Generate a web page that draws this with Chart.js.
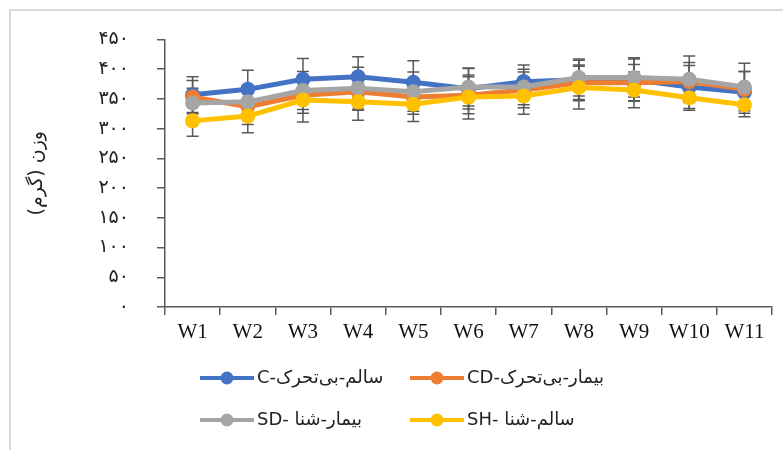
<!DOCTYPE html>
<html>
<head>
<meta charset="utf-8">
<script src="https://cdn.jsdelivr.net/npm/chart.js@4"></script>
<style>
  html, body { margin: 0; padding: 0; background: #fff; }
  #wrap { width: 783px; height: 450px; position: relative; }
</style>
</head>
<body>
<div id="wrap"><canvas id="chartCanvas" width="783" height="450"></canvas></div>
<script>
// weeks and mean weight (g) per group, with the error bar size
const weeks = ["W1", "W2", "W3", "W4", "W5", "W6", "W7", "W8", "W9", "W10", "W11"];
const seriesNames = ["C-سالم-بی‌تحرک", "CD-بیمار-بی‌تحرک", "SD- بیمار-شنا", "SH- سالم-شنا"];
const seriesColors = ["#4472C4", "#ED7D31", "#A5A5A5", "#FFC000"];

const valuesC = [357, 366, 383, 387, 378, 367, 379, 382, 382, 370, 361];
const valuesCD = [353, 337, 356, 362, 353, 356, 365, 377, 377, 379, 366];
const valuesSD = [343, 345, 364, 368, 362, 370, 370, 386, 386, 383, 370];
const valuesSH = [313, 321, 348, 345, 341, 353, 355, 369, 365, 352, 340];

const errC = [30, 32, 35, 34, 36, 34, 28, 33, 35, 36, 35];
const errCD = [28, 30, 30, 31, 29, 31, 30, 30, 31, 32, 30];
const errSD = [25, 28, 32, 35, 33, 32, 30, 31, 33, 39, 40];
const errSH = [26, 28, 37, 31, 29, 37, 31, 36, 30, 21, 20];

const yTicks = [0, 50, 100, 150, 200, 250, 300, 350, 400, 450];
const yTitle = "وزن (گرم)";

const persianDigits = "۰۱۲۳۴۵۶۷۸۹";
const toPersian = (n) => String(n).replace(/[0-9]/g, (d) => persianDigits[d]);

const axisColor = "#595959";
const persianFont = "'DejaVu Sans'";

// error bars under the markers
const errorBars = {
  id: "errorBars",
  beforeDatasetsDraw(chart) {
    const ctx = chart.ctx;
    const yScale = chart.scales.y;
    ctx.save();
    ctx.strokeStyle = axisColor;
    ctx.lineWidth = 1.5;
    chart.data.datasets.forEach((ds, i) => {
      const meta = chart.getDatasetMeta(i);
      meta.data.forEach((pt, j) => {
        const v = ds.data[j];
        const e = ds.errors[j];
        const yTop = yScale.getPixelForValue(v + e);
        const yBot = yScale.getPixelForValue(v - e);
        ctx.beginPath();
        ctx.moveTo(pt.x, yTop);
        ctx.lineTo(pt.x, yBot);
        ctx.moveTo(pt.x - 6, yTop);
        ctx.lineTo(pt.x + 6, yTop);
        ctx.moveTo(pt.x - 6, yBot);
        ctx.lineTo(pt.x + 6, yBot);
        ctx.stroke();
      });
    });
    ctx.restore();
  },
};

// legend in two rows under the axis, plus the outer frame
const legendAndFrame = {
  id: "legendAndFrame",
  afterDraw(chart) {
    const ctx = chart.ctx;
    ctx.save();
    ctx.strokeStyle = "#d9d9d9";
    ctx.lineWidth = 2;
    ctx.beginPath();
    ctx.moveTo(10, 450);
    ctx.lineTo(10, 10);
    ctx.lineTo(783, 10);
    ctx.stroke();

    const cols = [200, 410];
    const rows = [378, 420];
    seriesNames.forEach((name, i) => {
      const x = cols[i % 2];
      const y = rows[Math.floor(i / 2)];
      ctx.strokeStyle = seriesColors[i];
      ctx.lineWidth = 4;
      ctx.beginPath();
      ctx.moveTo(x, y);
      ctx.lineTo(x + 54, y);
      ctx.stroke();
      ctx.fillStyle = seriesColors[i];
      ctx.beginPath();
      ctx.arc(x + 27, y, 6.5, 0, Math.PI * 2);
      ctx.fill();
      ctx.fillStyle = "#222";
      ctx.font = "18px " + persianFont;
      ctx.textAlign = "left";
      ctx.textBaseline = "middle";
      ctx.fillText(name, x + 57, y);
    });
    ctx.restore();
  },
};

const allValues = [valuesC, valuesCD, valuesSD, valuesSH];
const allErrors = [errC, errCD, errSD, errSH];

new Chart(document.getElementById("chartCanvas"), {
  type: "line",
  data: {
    labels: weeks,
    datasets: allValues.map((vals, i) => ({
      label: seriesNames[i],
      data: vals,
      errors: allErrors[i],
      borderColor: seriesColors[i],
      backgroundColor: seriesColors[i],
      borderWidth: 5,
      pointRadius: 7.5,
      pointBorderWidth: 0,
      tension: 0,
      order: 3 - i, // yellow on top, like the original
    })),
  },
  options: {
    responsive: false,
    animation: false,
    layout: { padding: { top: 39, right: 11, bottom: 0, left: 0 } },
    plugins: {
      legend: { display: false },
      tooltip: { enabled: false },
    },
    scales: {
      x: {
        offset: true,
        grid: { offset: true, drawOnChartArea: false, tickLength: 8, color: axisColor, lineWidth: 1.5 },
        border: { color: axisColor, width: 1.5 },
        ticks: {
          color: "#111",
          padding: 5,
          maxRotation: 0,
          autoSkip: false,
          font: { family: "'Liberation Serif'", size: 21 },
        },
        afterFit: (scale) => { scale.height = 143; },
      },
      y: {
        min: 0,
        max: 450,
        afterBuildTicks: (scale) => { scale.ticks = yTicks.map((v) => ({ value: v })); },
        grid: { drawOnChartArea: false, tickLength: 8, color: axisColor, lineWidth: 1.5 },
        border: { color: axisColor, width: 1.5 },
        ticks: {
          color: "#222",
          padding: 28,
          font: { family: persianFont, size: 19 },
          callback: (v) => toPersian(v),
        },
        title: {
          display: true,
          text: yTitle,
          color: "#222",
          padding: { top: 26, bottom: 0 },
          font: { family: persianFont, size: 19 },
        },
        afterFit: (scale) => { scale.width = 165; },
      },
    },
  },
  plugins: [errorBars, legendAndFrame],
});
</script>
</body>
</html>
